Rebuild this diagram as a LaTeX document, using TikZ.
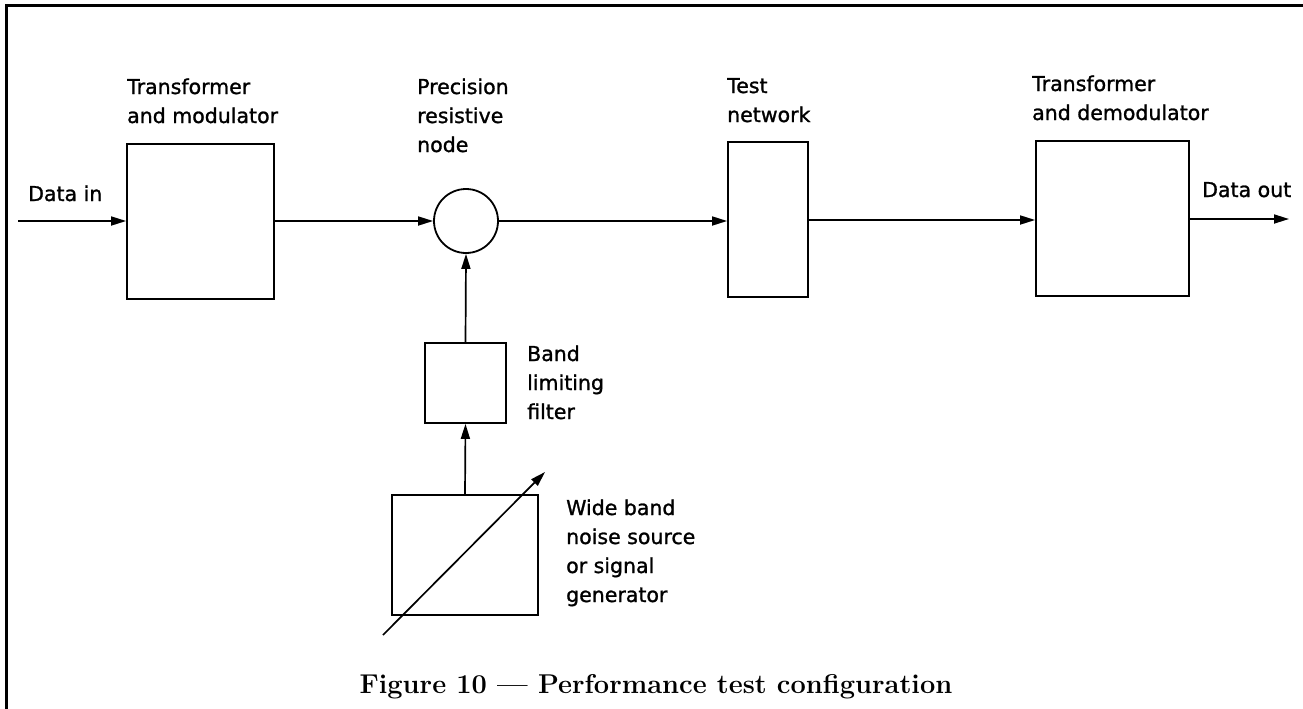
\documentclass[tikz,border=0pt]{standalone}
\usepackage{fontspec}
\newfontfamily\labelfont[FakeBold=1.2]{DejaVu Sans}
\usetikzlibrary{arrows.meta}
\tikzset{
  blk/.style={draw, line width=1.8pt, minimum width=#1, inner sep=0pt},
  lbl/.style={anchor=base west, align=left, inner sep=0pt,
    font=\labelfont\fontsize{20.5}{29}\selectfont},
  conn/.style={line width=1.7pt, -{Triangle[length=15pt,width=9pt]}},
}
\begin{document}
\begin{tikzpicture}[x=1pt,y=-1pt]
  \useasboundingbox (0,0) rectangle (1303,709);
  % frame along the left and top edges
  \draw[line width=3pt] (6,709) -- (6,6) -- (1303,6);

  % blocks
  \node[blk=147pt, minimum height=155pt] (tm) at (200.5,221.5) {};
  \node[draw, circle, line width=1.8pt, minimum size=64pt, inner sep=0pt] (rn) at (466,221) {};
  \node[blk=80pt, minimum height=155pt] (tn) at (768,219.5) {};
  \node[blk=153pt, minimum height=155pt] (td) at (1112.5,218.5) {};
  \node[blk=81pt, minimum height=80pt] (bf) at (465.5,383) {};
  \node[blk=146pt, minimum height=120pt] (ws) at (465,555) {};

  % free ends
  \coordinate (din) at (18,221);
  \coordinate (dout) at (1289,219);
  \coordinate (va) at (383,635);
  \coordinate (vb) at (545,472);

  % labels (anchored at the baseline of their last line)
  \node[lbl] (ltm) at (127,123) {Transformer\\and modulator};
  \node[lbl] (lrn) at (417,152) {Precision\\resistive\\node};
  \node[lbl] (ltn) at (727,122) {Test\\network};
  \node[lbl] (ltd) at (1032,120) {Transformer\\and demodulator};
  \node[lbl] (ldin) at (28,201) {Data in};
  \node[lbl] (ldout) at (1202,197) {Data out};
  \node[lbl] (lbf) at (527,419) {Band\\limiting\\filter};
  \node[lbl] (lws) at (566,602) {Wide band\\noise source\\or signal\\generator};

  % signal path
  \draw[conn] (din) -- (tm.west |- din);
  \draw[conn] (tm.east |- rn) -- (rn.west);
  \draw[conn] (rn.east) -- (tn.west |- rn);
  \draw[conn] (tn.east |- 0,220) -- (td.west |- 0,220);
  \draw[conn] (td.east |- dout) -- (dout);
  \draw[conn] (ws.north) -- (bf.south);
  \draw[conn] (bf.north) -- (rn.south);
  % variable-source arrow across the generator
  \draw[conn] (va) -- (vb);

  % caption
  \node[anchor=base, inner sep=0pt, font=\bfseries\fontsize{27.2}{32}\selectfont] (cap) at (656,693)
    {Figure 10 --- Performance test configuration};
\end{tikzpicture}
\end{document}
